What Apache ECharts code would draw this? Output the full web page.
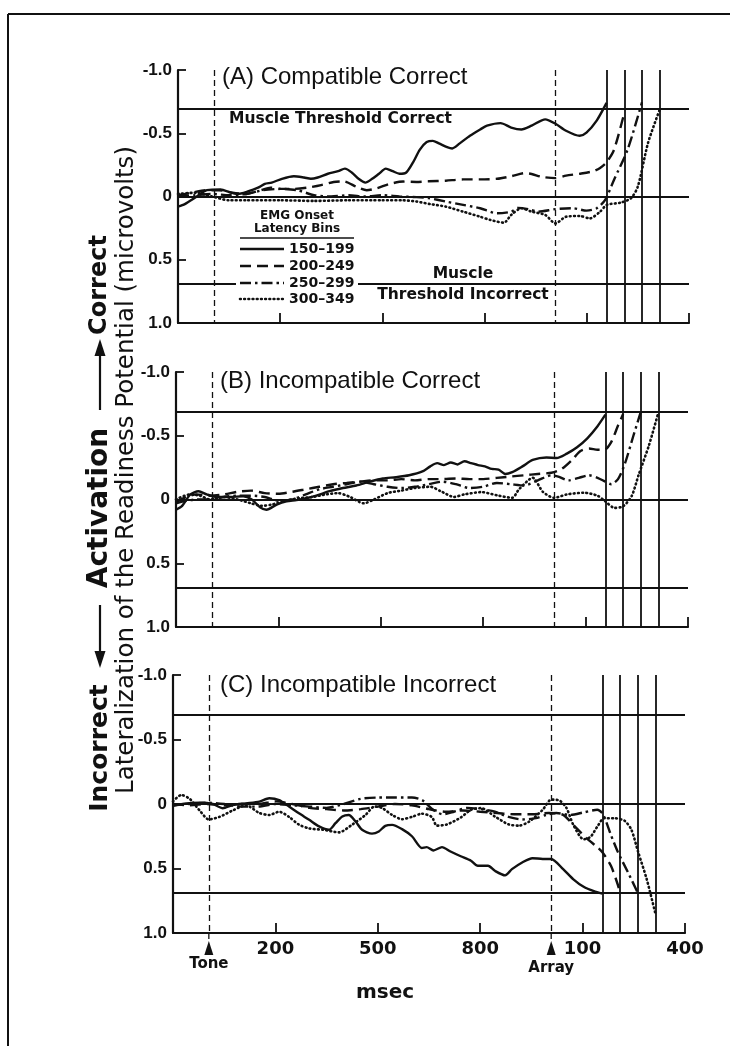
<!DOCTYPE html>
<html>
<head>
<meta charset="utf-8">
<script src="https://cdn.jsdelivr.net/npm/echarts/dist/echarts.min.js"></script>
<style>
  html, body { margin: 0; padding: 0; background: #fff; }
  #c { width: 730px; height: 1046px; }
</style>
</head>
<body>
<div id="c"></div>
<script>
// ---- axis values -------------------------------------------------------
// time in ms from tone onset; the last two ticks are read as ms after the array
const xTickLabels = { 200: '200', 500: '500', 800: '800', 1100: '100', 1400: '400' };
const eventTimes = [5, 1008];                 // Tone, Array
const eventNames = ['Tone', 'Array'];
const onsetLines = [1158, 1210, 1262, 1313];  // EMG onset of each latency bin
const thresholds = [-0.69, 0.69];             // muscle thresholds (correct / incorrect)
const binNames = ['150\u2013199', '200\u2013249', '250\u2013299', '300\u2013349'];

// ---- (A) Compatible Correct -------------------------------------------
const aSolid = [[-100,0.08],[-80,0.06],[-45,0.0],[-15,-0.05],[25,-0.055],[55,-0.03],[75,-0.02],[105,-0.04],[135,-0.07],[155,-0.1],[175,-0.11],[205,-0.14],[240,-0.16],[270,-0.15],[290,-0.14],[310,-0.15],[340,-0.18],[370,-0.2],[390,-0.22],[410,-0.19],[430,-0.14],[450,-0.11],[470,-0.14],[490,-0.18],[510,-0.22],[530,-0.2],[550,-0.18],[570,-0.19],[590,-0.27],[610,-0.37],[630,-0.43],[648,-0.44],[666,-0.42],[690,-0.39],[705,-0.38],[727,-0.42],[757,-0.48],[787,-0.53],[807,-0.56],[847,-0.58],[878,-0.545],[908,-0.53],[938,-0.56],[978,-0.61],[1008,-0.575],[1039,-0.52],[1079,-0.48],[1099,-0.505],[1129,-0.6],[1158,-0.74]];
const aDashed = [[-100,-0.01],[-60,-0.03],[-20,-0.05],[20,-0.05],[60,-0.03],[100,-0.02],[143,-0.05],[172,-0.07],[201,-0.06],[240,-0.06],[280,-0.07],[320,-0.09],[357,-0.115],[386,-0.12],[425,-0.075],[454,-0.05],[483,-0.065],[522,-0.1],[561,-0.118],[600,-0.115],[636,-0.12],[686,-0.125],[737,-0.135],[787,-0.135],[837,-0.14],[878,-0.16],[918,-0.185],[938,-0.178],[968,-0.155],[1008,-0.145],[1039,-0.165],[1079,-0.18],[1119,-0.2],[1139,-0.226],[1158,-0.27],[1180,-0.37],[1210,-0.66]];
const aDashDot = [[-100,0.0],[-50,-0.01],[0,-0.02],[50,-0.01],[100,-0.02],[150,-0.05],[200,-0.06],[250,-0.05],[300,-0.01],[350,0.0],[400,-0.01],[450,0.0],[500,-0.01],[550,0.0],[600,0.005],[636,0.013],[686,0.04],[737,0.066],[787,0.093],[837,0.133],[878,0.12],[898,0.09],[928,0.1],[958,0.12],[1008,0.1],[1059,0.093],[1099,0.112],[1129,0.093],[1154,0.027],[1180,-0.133],[1220,-0.372],[1262,-0.745]];
const aDotted = [[-100,-0.02],[-50,-0.03],[0,0.0],[50,0.03],[100,0.03],[200,0.03],[300,0.035],[400,0.03],[500,0.03],[560,0.03],[600,0.04],[640,0.06],[686,0.08],[737,0.12],[787,0.16],[817,0.186],[857,0.207],[878,0.146],[908,0.093],[938,0.12],[978,0.146],[1008,0.213],[1039,0.16],[1079,0.154],[1109,0.173],[1139,0.12],[1159,0.066],[1200,0.048],[1230,0.013],[1250,-0.08],[1280,-0.426],[1313,-0.68]];

// ---- (B) Incompatible Correct -----------------------------------------
const bSolid = [[-100,0.08],[-82,0.05],[-58,-0.04],[-34,-0.065],[-10,-0.04],[20,-0.02],[58,-0.02],[97,-0.025],[122,0.0],[146,0.06],[165,0.08],[195,0.04],[224,0.015],[253,0.005],[282,-0.01],[311,-0.03],[350,-0.065],[389,-0.09],[428,-0.11],[467,-0.14],[506,-0.165],[544,-0.175],[583,-0.19],[622,-0.22],[645,-0.26],[665,-0.285],[685,-0.27],[705,-0.29],[725,-0.275],[745,-0.3],[765,-0.285],[785,-0.27],[805,-0.26],[825,-0.24],[845,-0.235],[865,-0.2],[885,-0.215],[915,-0.26],[945,-0.31],[985,-0.33],[1015,-0.325],[1045,-0.36],[1075,-0.41],[1105,-0.48],[1135,-0.575],[1158,-0.665]];
const bDashed = [[-100,0.02],[-70,-0.02],[-40,-0.04],[0,-0.03],[40,-0.04],[80,-0.06],[120,-0.07],[160,-0.05],[200,-0.045],[240,-0.06],[280,-0.08],[320,-0.1],[360,-0.12],[400,-0.13],[440,-0.14],[480,-0.15],[520,-0.15],[560,-0.16],[600,-0.15],[640,-0.16],[680,-0.16],[720,-0.165],[760,-0.16],[800,-0.16],[840,-0.17],[880,-0.18],[920,-0.19],[960,-0.2],[1000,-0.21],[1030,-0.24],[1060,-0.31],[1085,-0.38],[1110,-0.4],[1135,-0.39],[1155,-0.39],[1175,-0.45],[1195,-0.58],[1210,-0.67]];
const bDashDot = [[-100,0.03],[-70,0.01],[-40,0.0],[0,0.0],[40,-0.02],[80,-0.03],[120,-0.03],[160,-0.02],[200,0.01],[240,0.0],[280,-0.04],[320,-0.08],[360,-0.1],[400,-0.12],[440,-0.14],[480,-0.12],[520,-0.1],[560,-0.09],[600,-0.1],[640,-0.12],[680,-0.14],[720,-0.12],[760,-0.09],[800,-0.1],[840,-0.13],[880,-0.12],[920,-0.11],[960,-0.15],[1000,-0.19],[1020,-0.18],[1050,-0.15],[1080,-0.17],[1110,-0.19],[1135,-0.17],[1158,-0.14],[1175,-0.12],[1195,-0.16],[1215,-0.28],[1240,-0.5],[1262,-0.69]];
const bDotted = [[-100,0.0],[-60,-0.04],[-30,-0.03],[0,0.0],[40,-0.02],[80,0.0],[120,0.03],[150,0.05],[180,0.04],[220,0.01],[260,-0.01],[300,-0.02],[340,-0.04],[375,-0.05],[410,-0.02],[450,0.03],[480,0.0],[520,-0.05],[560,-0.07],[600,-0.09],[645,-0.1],[675,-0.066],[715,-0.02],[745,-0.04],[795,-0.058],[845,-0.03],[885,-0.013],[905,-0.08],[945,-0.17],[975,-0.06],[1008,-0.013],[1045,-0.04],[1095,-0.053],[1135,-0.03],[1157,0.013],[1185,0.066],[1210,0.053],[1235,-0.027],[1255,-0.19],[1285,-0.42],[1313,-0.68]];

// ---- (C) Incompatible Incorrect ---------------------------------------
const cSolid = [[-100,0.015],[-61,-0.005],[-22,-0.01],[17,0.0],[46,0.033],[75,0.008],[114,-0.005],[153,-0.018],[182,-0.044],[211,-0.03],[240,0.02],[269,0.072],[299,0.123],[328,0.174],[357,0.2],[376,0.149],[396,0.097],[415,0.085],[435,0.136],[454,0.2],[483,0.23],[503,0.213],[522,0.169],[542,0.162],[571,0.195],[600,0.25],[629,0.341],[643,0.334],[663,0.36],[688,0.334],[713,0.368],[743,0.405],[773,0.44],[793,0.479],[823,0.479],[843,0.518],[873,0.553],[893,0.505],[923,0.453],[953,0.42],[983,0.426],[1008,0.426],[1043,0.505],[1073,0.584],[1103,0.642],[1133,0.676],[1158,0.695]];
const cDashed = [[-100,0.0],[-50,0.01],[0,0.0],[50,0.01],[100,0.0],[150,0.0],[200,-0.02],[250,0.0],[300,0.03],[350,0.04],[400,0.05],[450,0.04],[500,0.02],[550,0.0],[600,0.01],[650,0.04],[700,0.06],[750,0.05],[800,0.06],[850,0.07],[900,0.08],[950,0.08],[1000,0.07],[1043,0.084],[1073,0.163],[1113,0.268],[1143,0.334],[1158,0.374],[1183,0.479],[1203,0.624],[1210,0.69]];
const cDashDot = [[-100,0.01],[-50,0.0],[0,-0.01],[50,0.0],[100,0.02],[150,0.02],[200,0.0],[250,0.01],[300,0.02],[350,0.03],[400,0.0],[450,-0.04],[500,-0.05],[550,-0.05],[600,-0.05],[630,-0.03],[660,0.04],[690,0.08],[723,0.06],[763,0.03],[803,0.04],[843,0.06],[883,0.1],[923,0.12],[963,0.11],[993,0.085],[1023,0.07],[1063,0.085],[1103,0.065],[1143,0.045],[1160,0.08],[1183,0.24],[1203,0.37],[1233,0.53],[1262,0.69]];
const cDotted = [[-100,-0.02],[-76,-0.07],[-51,-0.04],[-22,0.05],[5,0.12],[36,0.1],[75,0.05],[114,0.01],[153,0.07],[182,0.085],[211,0.06],[240,0.1],[269,0.16],[300,0.19],[340,0.2],[386,0.22],[425,0.16],[464,0.085],[490,0.02],[512,0.03],[542,0.085],[571,0.118],[600,0.1],[629,0.075],[658,0.1],[673,0.168],[703,0.158],[743,0.105],[773,0.045],[803,0.032],[843,0.097],[883,0.158],[913,0.168],[943,0.137],[983,0.045],[1008,-0.034],[1033,-0.026],[1053,0.032],[1073,0.163],[1103,0.274],[1123,0.255],[1143,0.176],[1163,0.11],[1193,0.11],[1223,0.13],[1243,0.2],[1263,0.374],[1288,0.584],[1313,0.847]];

const panelTitles = ['(A) Compatible Correct', '(B) Incompatible Correct', '(C) Incompatible Incorrect'];
const panelSeries = [
  [aSolid, aDashed, aDashDot, aDotted],
  [bSolid, bDashed, bDashDot, bDotted],
  [cSolid, cDashed, cDashDot, cDotted]
];

// ---- layout & styles ----------------------------------------------------
const gridBoxes = [
  { left: 178, top: 70,  width: 511, height: 253 },
  { left: 176, top: 372, width: 512, height: 255 },
  { left: 173, top: 675, width: 512, height: 258 }
];
const titleTops = [65, 369, 673];
const titleLefts = [222, 220, 220];
const INK = '#111';
const BOLD = '"DejaVu Sans", sans-serif';
const HELV = '"Liberation Sans", Arial, sans-serif';
const binDash = ['solid', [11, 6], [11, 4, 2.5, 4], [0.8, 3.4]];
const binCap = ['butt', 'butt', 'butt', 'round'];
const binWidth = [2.4, 2.4, 2.4, 2.6];

function yLabel(v) {
  if (Math.abs(v) < 1e-9) return '0';
  return v.toFixed(1);
}

const refLines = {
  silent: true,
  symbol: ['none', 'none'],
  label: { show: false },
  animation: false,
  lineStyle: { color: INK, width: 1.8, type: 'solid' },
  data: [{ yAxis: 0 }]
    .concat(thresholds.map(t => ({ yAxis: t })))
    .concat(onsetLines.map(t => ({ xAxis: t })))
    .concat(eventTimes.map(t => ({ xAxis: t, lineStyle: { type: [6, 4], width: 1.3, color: INK } })))
};

const grid = gridBoxes.map(g => Object.assign({ containLabel: false, outerBoundsMode: 'none' }, g));

const xAxis = gridBoxes.map((g, i) => ({
  gridIndex: i, type: 'value', min: -100, max: 1400, interval: 300,
  axisLine: { show: true, onZero: false, lineStyle: { color: INK, width: 2.2 } },
  axisTick: { show: true, inside: true, length: 10, lineStyle: { color: INK, width: 1.8 } },
  axisLabel: {
    show: i === 2, margin: 7, color: INK, fontFamily: BOLD, fontWeight: 'bold', fontSize: 18,
    formatter: v => xTickLabels[v] || ''
  },
  splitLine: { show: false }
}));

const yAxis = gridBoxes.map((g, i) => ({
  gridIndex: i, type: 'value', inverse: true, min: -1, max: 1, interval: 0.5,
  axisLine: { show: true, onZero: false, lineStyle: { color: INK, width: 2.2 } },
  axisTick: { show: true, inside: true, length: 8, lineStyle: { color: INK, width: 1.8 } },
  axisLabel: { margin: 6, color: INK, fontFamily: HELV, fontWeight: 'bold', fontSize: 17, formatter: yLabel },
  splitLine: { show: false }
}));

const series = [];
panelSeries.forEach((bins, i) => {
  bins.forEach((data, k) => {
    series.push({
      type: 'line', name: binNames[k], xAxisIndex: i, yAxisIndex: i, data: data,
      showSymbol: false, smooth: 0.25, animation: false, z: 3,
      lineStyle: { color: INK, width: binWidth[k], type: binDash[k], cap: binCap[k] },
      markLine: k === 0 ? refLines : undefined
    });
  });
});

const title = panelTitles.map((t, i) => ({
  text: t, left: titleLefts[i], top: titleTops[i], padding: 0,
  textStyle: { color: INK, fontFamily: HELV, fontWeight: 'normal', fontSize: 24 }
}));

const chart = echarts.init(document.getElementById('c'), null, { renderer: 'canvas' });
chart.setOption({ backgroundColor: '#fff', animation: false, title, grid, xAxis, yAxis, series });

// ---- annotations ----------------------------------------------------------
function txt(x, y, s, font, align, rot) {
  return {
    type: 'text', x: x, y: y, rotation: rot || 0, z: 120,
    style: { text: s, x: 0, y: 0, font: font, fill: INK,
      textAlign: align || 'center', align: align || 'center',
      textVerticalAlign: 'middle', verticalAlign: 'middle' }
  };
}
function seg(x1, y1, x2, y2, w, dash, cap) {
  return { type: 'line', z: 120, shape: { x1, y1, x2, y2 },
    style: { stroke: INK, lineWidth: w, lineDash: dash || null, lineCap: cap || 'butt' } };
}
function tri(pts) {
  return { type: 'polygon', z: 120, shape: { points: pts }, style: { fill: INK } };
}

const g = [];
// frame
g.push(seg(8, 14, 730, 14, 2));
g.push(seg(8, 14, 8, 1046, 2));

// threshold annotations in panel A
g.push(txt(229, 119, 'Muscle Threshold Correct', 'bold 15.5px ' + BOLD, 'left'));
g.push(txt(463, 274, 'Muscle', 'bold 15.5px ' + BOLD));
g.push(txt(463, 295, 'Threshold Incorrect', 'bold 15.5px ' + BOLD));

// legend for the latency bins
g.push({ type: 'rect', z: 110, shape: { x: 236, y: 207, width: 122, height: 99 }, style: { fill: '#fff' } });
g.push(txt(297, 216, 'EMG Onset', 'bold 12px ' + BOLD));
g.push(txt(297, 229, 'Latency Bins', 'bold 12px ' + BOLD));
g.push(seg(240, 238, 354, 238, 1.6));
const legendRows = [249, 266, 283, 299];
binNames.forEach((nm, k) => {
  const y = legendRows[k];
  const d = binDash[k] === 'solid' ? null : binDash[k];
  g.push(seg(240, y, 284, y, binWidth[k], d, binCap[k]));
  g.push(txt(289, y, nm, 'bold 14px ' + BOLD, 'left'));
});

// event markers below the bottom axis
const axisBottom = gridBoxes[2].top + gridBoxes[2].height;
eventTimes.forEach((t, i) => {
  const px = chart.convertToPixel({ xAxisIndex: 2 }, t);
  g.push(seg(px, axisBottom, px, axisBottom + 10, 1.3, [6, 4]));
  g.push(tri([[px, axisBottom + 8], [px - 4.5, axisBottom + 22], [px + 4.5, axisBottom + 22]]));
  g.push(txt(px, axisBottom + (i === 0 ? 31 : 35), eventNames[i], 'bold 15px ' + BOLD));
});
g.push(txt(385, 993, 'msec', 'bold 20px ' + BOLD));

// rotated axis titles
const R = Math.PI / 2;
g.push(txt(100, 285, 'Correct', 'bold 24px ' + BOLD, 'center', R));
g.push(seg(100, 410, 100, 354, 2.2));
g.push(tri([[100, 339], [94.5, 356], [105.5, 356]]));
g.push(txt(100, 508, 'Activation', 'bold 28px ' + BOLD, 'center', R));
g.push(seg(100, 605, 100, 652, 2.2));
g.push(tri([[100, 668], [94.5, 651], [105.5, 651]]));
g.push(txt(100, 748, 'Incorrect', 'bold 25px ' + BOLD, 'center', R));
g.push(txt(127, 470, 'Lateralization of the Readiness Potential (microvolts)', '24.5px "DejaVu Sans", sans-serif', 'center', R));

chart.setOption({ graphic: { elements: g } });
</script>
</body>
</html>
